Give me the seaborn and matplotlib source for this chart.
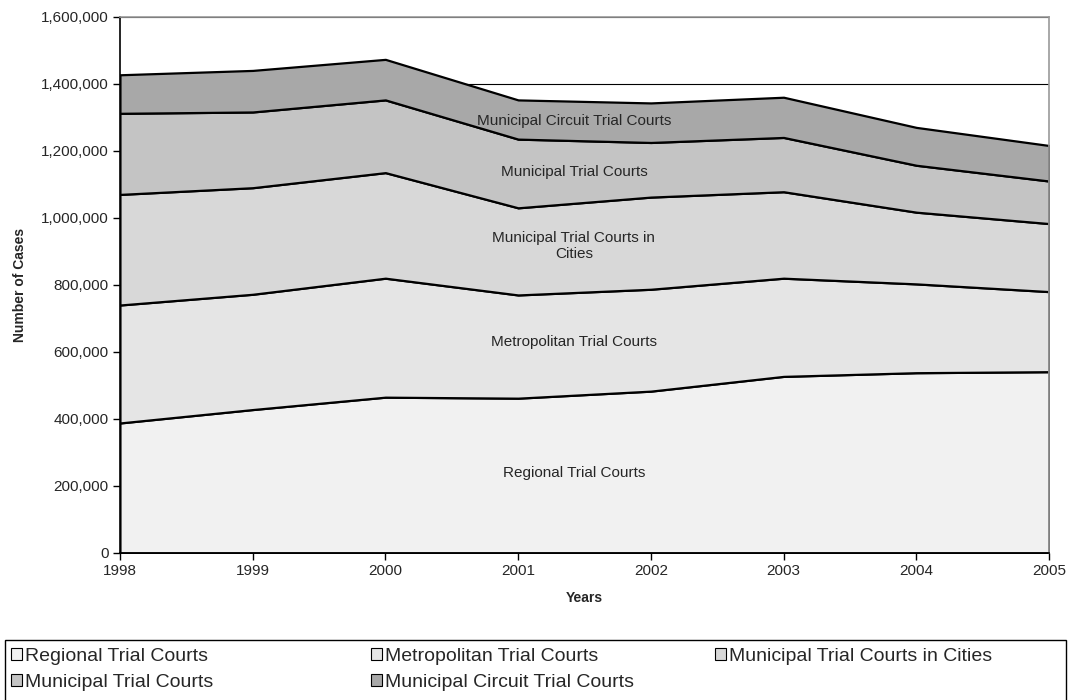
import numpy as np
import pandas as pd
import matplotlib
matplotlib.use("Agg")
import matplotlib.pyplot as plt
import seaborn as sns
from matplotlib.ticker import FuncFormatter
from matplotlib.patches import Rectangle

# Data (cases per court level)
years = [1998, 1999, 2000, 2001, 2002, 2003, 2004, 2005]
regional = [388000, 428000, 465000, 462000, 483000, 527000, 538000, 541000]
metropolitan = [352000, 344000, 355000, 308000, 304000, 293000, 265000, 239000]
mtc_cities = [330000, 318000, 315000, 260000, 275000, 258000, 214000, 203000]
municipal = [242000, 226000, 217000, 205000, 163000, 162000, 140000, 127000]
circuit = [115000, 124000, 121000, 117000, 118000, 120000, 113000, 106000]

names = ["Regional Trial Courts", "Metropolitan Trial Courts",
         "Municipal Trial Courts in Cities", "Municipal Trial Courts",
         "Municipal Circuit Trial Courts"]
in_labels = ["Regional Trial Courts", "Metropolitan Trial Courts",
             "Municipal Trial Courts in\nCities", "Municipal Trial Courts",
             "Municipal Circuit Trial Courts"]
colors = ["#f1f1f1", "#e5e5e5", "#d8d8d8", "#c4c4c4", "#a8a8a8"]

df = pd.DataFrame({"Year": years, names[0]: regional, names[1]: metropolitan,
                   names[2]: mtc_cities, names[3]: municipal, names[4]: circuit})

sns.set_theme(style="ticks")
plt.rcParams["font.family"] = ["Liberation Sans", "DejaVu Sans"]

fig = plt.figure(figsize=(10.71, 7), dpi=100)
ax = fig.add_axes([0.112, 0.21, 0.8675, 0.766])

ax.set_axisbelow(True)
ax.yaxis.grid(True, color="black", linewidth=0.8)
polys = ax.stackplot(df["Year"], *[df[n] for n in names], colors=colors,
                     edgecolor="black", linewidth=1.6, labels=names, zorder=2)

# band labels placed near the middle of the chart
label_x = 2001.42
label_y = [239000, 630000, 916000, 1137000, 1290000]
for txt, ly in zip(in_labels, label_y):
    ax.text(label_x, ly, txt, ha="center", va="center", fontsize=11, zorder=3)

ax.set_xlim(1998, 2005)
ax.set_ylim(0, 1600000)
ax.set_xticks(years)
ax.set_yticks(np.arange(0, 1600001, 200000))
ax.yaxis.set_major_formatter(FuncFormatter(lambda v, p: f"{int(v):,}"))
ax.tick_params(axis="both", labelsize=11, length=5, width=1, color="black",
               direction="out", pad=3)
ax.set_xlabel("Years", fontsize=10, fontweight="bold", labelpad=9)
ax.set_ylabel("Number of Cases", fontsize=10, fontweight="bold", labelpad=10)

for side in ["left", "bottom"]:
    ax.spines[side].set_color("black")
    ax.spines[side].set_linewidth(1.2)
for side in ["top", "right"]:
    ax.spines[side].set_color("#999999")
    ax.spines[side].set_linewidth(1.2)

# legend: three equal-width columns, filled row by row, inside one box
fig.patches.append(Rectangle((5 / 1071, -0.01), 1061 / 1071, 60 / 700 + 0.01,
                             transform=fig.transFigure, fill=False,
                             edgecolor="black", linewidth=1.0))
columns = [[0, 3], [1, 4], [2]]
col_x = [11, 371, 715]
for idx, cx in zip(columns, col_x):
    leg = fig.legend(handles=[polys[i] for i in idx],
                     labels=[names[i] for i in idx],
                     loc="upper left",
                     bbox_to_anchor=(cx / 1071, 1 - 648 / 700),
                     ncol=1, fontsize=14, frameon=False,
                     handlelength=0.55, handleheight=0.55,
                     handletextpad=0.15, borderpad=0, labelspacing=0.45,
                     borderaxespad=0)
    for h in leg.legend_handles:
        h.set_linewidth(0.8)

fig.savefig("out.png", dpi=100)
